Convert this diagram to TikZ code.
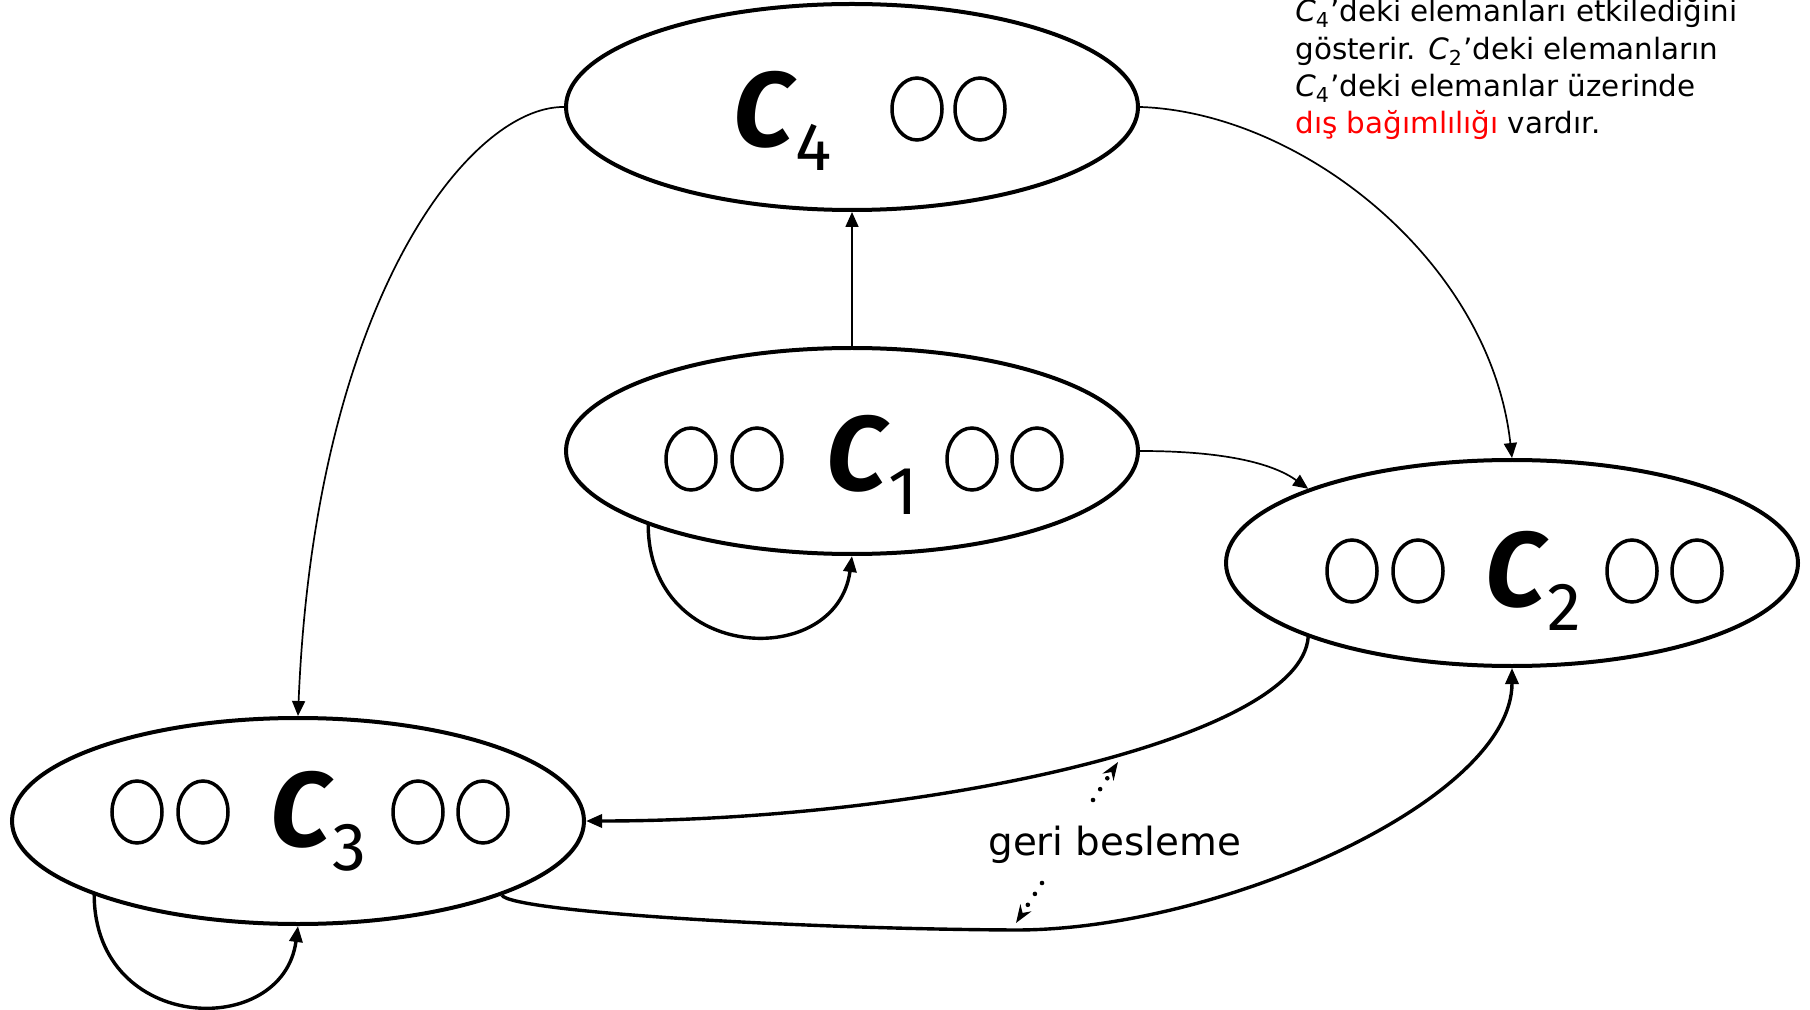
\documentclass[tikz,border=0pt]{standalone}
\usepackage{fontspec}
\setmainfont{DejaVu Sans}
\newfontfamily\labelfont{Fira Sans}
\usetikzlibrary{arrows.meta,shapes.geometric}

\tikzset{
  cluster/.style={ellipse, draw, line width=2pt, minimum width=286pt,
    minimum height=103pt, inner sep=0pt},
  elem/.style={ellipse, draw, line width=1.75pt, minimum width=25pt,
    minimum height=31pt, inner sep=0pt},
  lbl/.style={anchor=base west, inner sep=0pt},
  link/.style={line width=0.85pt, -{Triangle[length=7.5pt,width=6.5pt]}},
  boldlink/.style={line width=1.7pt, -{Triangle[length=8pt,width=6.5pt]}},
  fb/.style={line width=2.3pt, line cap=round, dash pattern=on 0pt off 6.5pt,
    -{Stealth[length=9pt,width=6.5pt,inset=3pt]}},
  note/.style={anchor=base west, inner sep=0pt,
    font=\fontsize{14.7}{18}\selectfont},
}
\newcommand\clabel[1]{{\labelfont\fontsize{53}{53}\selectfont\bfseries\itshape C}%
  \kern1pt\raisebox{-12pt}{\labelfont\fontsize{34}{34}\selectfont #1}}

\begin{document}
\begin{tikzpicture}[x=0.5pt, y=-0.5pt]
  \fill[white] (0,0) rectangle (1810,1010);
  \useasboundingbox (0,0) rectangle (1810,1010);

  % clusters
  \node[cluster] (c4) at (852,107) {};
  \node[cluster] (c1) at (852,451) {};
  \node[cluster] (c2) at (1512,563) {};
  \node[cluster] (c3) at (298,821) {};

  % cluster names
  \node[lbl] (l4) at (733,147) {\clabel{4}};
  \node[lbl] (l1) at (826,491) {\clabel{1}};
  \node[lbl] (l2) at (1485,606) {\clabel{2}};
  \node[lbl] (l3) at (270,846) {\clabel{3}};

  % elements
  \node[elem] (e41) at (917,109) {};
  \node[elem] (e42) at (980,109) {};

  \node[elem] (e11) at (691,459) {};
  \node[elem] (e12) at (757,459) {};
  \node[elem] (e13) at (972,459) {};
  \node[elem] (e14) at (1037,459) {};

  \node[elem] (e21) at (1352,571) {};
  \node[elem] (e22) at (1418,571) {};
  \node[elem] (e23) at (1632,571) {};
  \node[elem] (e24) at (1697,571) {};

  \node[elem] (e31) at (137,812) {};
  \node[elem] (e32) at (203,812) {};
  \node[elem] (e33) at (418,812) {};
  \node[elem] (e34) at (483,812) {};

  % dependencies
  \draw[link] (c1.north) -- (c4.south);
  \draw[link] (c4.west) .. controls (470,106) and (315,300) .. (c3.north);
  \draw[link] (c4.east) .. controls (1300,112) and (1490,260) .. (c2.north);
  \draw[link] (c1.east) .. controls (1230,451) and (1275,465) .. (c2.160);
  \draw[boldlink] (c1.200) .. controls (649,664) and (837,670) .. (c1.south);
  \draw[boldlink] (c3.200) .. controls (95,1034) and (283,1040) .. (c3.south);
  \draw[boldlink] (c2.200) .. controls (1300,740) and (923,821) .. (c3.east);
  \draw[boldlink] (c3.-20) .. controls (512,912) and (800,929) .. (1016,930)
    .. controls (1220,930) and (1512,800) .. (c2.south);

  % feedback
  \node[anchor=base west, inner sep=0pt, font=\fontsize{19.4}{20}\selectfont]
    (gb) at (988,855) {geri besleme};
  \coordinate (fa0) at (1093,800);
  \coordinate (fa1) at (1118,762);
  \coordinate (fb0) at (1042,883);
  \coordinate (fb1) at (1016,923);
  \draw[fb] (fa0) -- (fa1);
  \draw[fb] (fb0) -- (fb1);

  % note
  \node[note] (n1) at (1295,22) {{\itshape C}\textsubscript{4}'deki elemanları etkilediğini};
  \node[note] (n2) at (1295,60) {gösterir. {\itshape C}\textsubscript{2}'deki elemanların};
  \node[note] (n3) at (1295,97) {{\itshape C}\textsubscript{4}'deki elemanlar üzerinde};
  \node[note] (n4) at (1295,134) {\textcolor{red}{dış bağımlılığı} vardır.};
\end{tikzpicture}
\end{document}
